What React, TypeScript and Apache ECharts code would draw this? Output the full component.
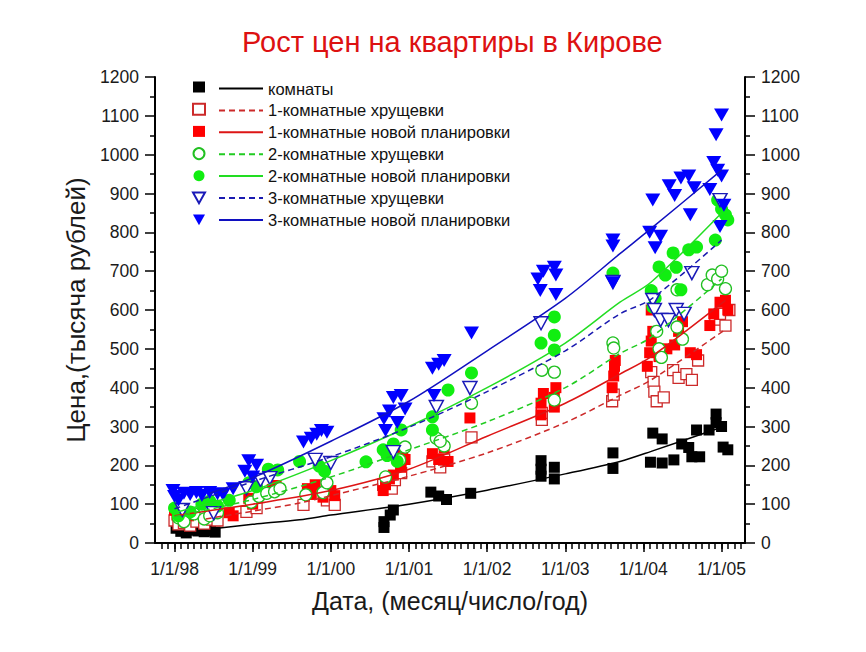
import React, { useEffect, useRef } from "react";
import * as echarts from "echarts";

const FONT = "'Liberation Sans', Arial, sans-serif";

const yearTicks = [1998, 1999, 2000, 2001, 2002, 2003, 2004, 2005];
const yearLabels = ["1/1/98", "1/1/99", "1/1/00", "1/1/01", "1/1/02", "1/1/03", "1/1/04", "1/1/05"];

const seriesNames = [
  "комнаты",
  "1-комнатные хрущевки",
  "1-комнатные новой планировки",
  "2-комнатные хрущевки",
  "2-комнатные новой планировки",
  "3-комнатные хрущевки",
  "3-комнатные новой планировки",
];

// [decimal year, price in thousand rubles]
const komnaty: [number, number][] = [
  [1998.02, 38], [1998.08, 30], [1998.15, 26], [1998.22, 33], [1998.3, 31], [1998.38, 29], [1998.46, 32], [1998.52, 28],
  [2000.68, 40], [2000.68, 55], [2000.76, 72], [2000.8, 85],
  [2001.28, 131], [2001.38, 121], [2001.48, 112], [2001.79, 128],
  [2002.69, 212], [2002.69, 190], [2002.69, 172], [2002.86, 195], [2002.86, 165],
  [2003.61, 232], [2003.61, 192],
  [2004.12, 283], [2004.24, 268], [2004.09, 208], [2004.24, 206], [2004.39, 214], [2004.49, 255], [2004.58, 246],
  [2004.62, 222], [2004.72, 222], [2004.68, 291], [2004.84, 291], [2004.93, 332], [2004.93, 310], [2005.0, 300],
  [2005.02, 247], [2005.08, 240],
];

const khrush1: [number, number][] = [
  [1998.0, 58], [1998.05, 48], [1998.12, 52], [1998.2, 45], [1998.28, 55], [1998.38, 50], [1998.48, 60], [1998.55, 58],
  [1998.92, 80], [1999.05, 90],
  [1999.65, 98], [1999.95, 110], [2000.05, 98],
  [2000.67, 150], [2000.78, 140], [2000.82, 162], [2000.9, 180], [2001.3, 210], [2001.4, 195], [2001.45, 215], [2001.8, 272],
  [2002.7, 317], [2002.7, 335], [2003.6, 365], [2003.62, 382],
  [2004.1, 440], [2004.13, 415], [2004.14, 390], [2004.17, 365], [2004.26, 375], [2004.38, 445], [2004.45, 425],
  [2004.55, 435], [2004.62, 420], [2004.7, 470], [2004.92, 575], [2004.98, 590], [2005.05, 560], [2005.1, 600],
];

const new1: [number, number][] = [
  [1998.0, 85], [1998.03, 72], [1998.1, 78], [1998.18, 70], [1998.55, 82], [1998.7, 78], [1998.75, 70],
  [1998.95, 115], [1999.0, 100], [1999.25, 138], [1999.3, 148],
  [1999.7, 140], [1999.75, 125], [1999.8, 150], [1999.9, 118], [2000.0, 135], [2000.05, 122],
  [2000.67, 135], [2000.7, 150], [2000.75, 165], [2000.8, 175], [2000.9, 195], [2000.95, 215], [2000.92, 238],
  [2001.3, 230], [2001.38, 215], [2001.45, 245], [2001.5, 210], [2001.78, 322],
  [2002.69, 330], [2002.69, 360], [2002.72, 385], [2002.86, 350], [2002.86, 375], [2002.88, 400],
  [2003.6, 400], [2003.62, 430], [2003.63, 455], [2003.64, 470],
  [2004.05, 455], [2004.08, 490], [2004.1, 520], [2004.12, 545], [2004.1, 600], [2004.2, 480], [2004.3, 500],
  [2004.4, 510], [2004.45, 545], [2004.5, 570], [2004.6, 490], [2004.68, 485], [2004.85, 560], [2004.9, 590],
  [2004.98, 620], [2005.05, 625], [2005.08, 600],
];

const khrush2: [number, number][] = [
  [1998.05, 65], [1998.12, 55], [1998.25, 75], [1998.38, 62], [1998.45, 70], [1998.55, 78],
  [1998.98, 105], [1999.08, 120], [1999.18, 128], [1999.28, 132], [1999.35, 140],
  [1999.68, 124], [1999.9, 130], [1999.95, 155],
  [2000.7, 170], [2000.88, 214], [2000.95, 247], [2001.35, 270], [2001.45, 250], [2001.4, 262], [2001.8, 360],
  [2002.7, 445], [2002.86, 440], [2002.86, 368], [2003.61, 515], [2003.62, 502],
  [2004.17, 545], [2004.2, 500], [2004.23, 478], [2004.43, 556], [2004.5, 525], [2004.43, 652], [2004.82, 665],
  [2004.88, 690], [2004.95, 680], [2005.0, 700], [2005.05, 655],
];

const new2: [number, number][] = [
  [1998.0, 90], [1998.05, 70], [1998.2, 80], [1998.35, 100], [1998.45, 108], [1998.55, 95], [1998.7, 110],
  [1998.95, 155], [1999.05, 145], [1999.2, 190], [1999.32, 188],
  [1999.6, 210], [1999.85, 198], [1999.92, 185],
  [2000.45, 209], [2000.67, 240], [2000.72, 225], [2000.8, 255], [2000.85, 210], [2000.9, 291],
  [2001.3, 325], [2001.3, 291], [2001.5, 394], [2001.8, 438],
  [2002.69, 515], [2002.86, 582], [2002.86, 535], [2002.86, 497], [2003.61, 695],
  [2004.1, 650], [2004.12, 608], [2004.15, 630], [2004.2, 711], [2004.28, 690], [2004.38, 747], [2004.42, 710],
  [2004.48, 652], [2004.58, 755], [2004.68, 762], [2004.92, 780], [2004.95, 883], [2005.0, 860], [2005.05, 845],
  [2005.08, 832],
];

const khrush3: [number, number][] = [
  [1998.1, 85], [1998.5, 77],
  [1998.92, 141], [1999.1, 162], [1999.22, 167],
  [1999.8, 214], [2000.0, 206],
  [2000.8, 234], [2001.35, 350], [2001.78, 399],
  [2002.69, 566], [2003.61, 672],
  [2004.12, 626], [2004.14, 600], [2004.22, 574], [2004.32, 574], [2004.42, 600], [2004.52, 590], [2004.62, 695],
  [2004.98, 883],
];

const new3: [number, number][] = [
  [1997.98, 135], [1998.0, 120], [1998.05, 110], [1998.12, 128], [1998.2, 125], [1998.28, 130], [1998.35, 122],
  [1998.45, 130], [1998.55, 127], [1998.62, 125], [1998.75, 140],
  [1998.9, 185], [1998.95, 212], [1999.0, 170], [1999.05, 200],
  [1999.65, 260], [1999.75, 270], [1999.82, 280], [1999.88, 290], [1999.95, 285],
  [2000.68, 320], [2000.7, 290], [2000.75, 340], [2000.8, 375], [2000.85, 310], [2000.9, 380], [2000.95, 345],
  [2001.3, 450], [2001.38, 460], [2001.45, 470], [2001.32, 380], [2001.8, 541],
  [2002.65, 680], [2002.68, 650], [2002.72, 700], [2002.86, 710], [2002.88, 690], [2002.88, 640],
  [2003.61, 780], [2003.61, 765], [2003.61, 670],
  [2004.12, 883], [2004.08, 800], [2004.15, 760], [2004.22, 790], [2004.33, 920], [2004.4, 895], [2004.48, 940],
  [2004.58, 945], [2004.65, 915], [2004.6, 845], [2004.9, 980], [2004.95, 960], [2005.0, 945], [2004.93, 1051],
  [2005.0, 1102], [2004.85, 910], [2005.03, 870], [2004.98, 815],
];

// trend curves
const komnatyTrend: [number, number][] = [
  [1998.55, 38], [1999, 48], [1999.6, 60], [2000, 72], [2001, 100], [2002, 136], [2003, 178], [2003.7, 210], [2004.1, 236], [2005, 298],
];
const khrush1Trend: [number, number][] = [
  [1998.4, 62], [1999, 82], [1999.6, 103], [2000, 122], [2001, 172], [2002, 232], [2003, 310], [2003.7, 380], [2004.1, 420], [2005.05, 550],
];
const new1Trend: [number, number][] = [
  [1998.0, 70], [1999, 100], [2000, 135], [2001, 190], [2002, 275], [2003, 360], [2003.7, 435], [2004.1, 480], [2005.05, 625],
];
const khrush2Trend: [number, number][] = [
  [1998.0, 68], [1999, 112], [2000, 170], [2001, 240], [2002, 312], [2003, 400], [2003.7, 488], [2004.1, 530], [2005.0, 680],
];
const new2Trend: [number, number][] = [
  [1998.0, 78], [1999, 135], [2000, 212], [2001, 300], [2002, 400], [2003, 515], [2003.7, 620], [2004.1, 672], [2005, 850],
];
const khrush3Trend: [number, number][] = [
  [1998.0, 88], [1999, 158], [2000, 222], [2001, 298], [2002, 390], [2003, 495], [2003.7, 590], [2004.1, 628], [2005, 780],
];
const new3Trend: [number, number][] = [
  [1998.45, 128], [1999, 168], [2000, 262], [2001, 365], [2002, 495], [2003, 630], [2003.7, 745], [2004.1, 810], [2005, 960],
];

const pointSets = [komnaty, khrush1, new1, khrush2, new2, khrush3, new3];
const trendSets = [komnatyTrend, khrush1Trend, new1Trend, khrush2Trend, new2Trend, khrush3Trend, new3Trend];

const DOWN_TRIANGLE = "path://M0,0 L20,0 L10,18 Z";

export default function App() {
  const ref = useRef<HTMLDivElement>(null);
  useEffect(() => {
    document.body.style.margin = "0";
    if (!ref.current) return;
    const chart = echarts.init(ref.current, null, { renderer: "svg" });

    const monthTicks: number[] = [];
    for (let m = -2; m <= 87; m++) monthTicks.push(1998 + m / 12);

    const markerStyles = [
      { symbol: "rect", size: 11, rotate: 0, item: { color: "#000000" } },
      { symbol: "rect", size: 11, rotate: 0, item: { color: "#ffffff", borderColor: "#cc2a2a", borderWidth: 1.3 } },
      { symbol: "rect", size: 11, rotate: 0, item: { color: "#ff0000" } },
      { symbol: "circle", size: 12, rotate: 0, item: { color: "#ffffff", borderColor: "#22c022", borderWidth: 1.3 } },
      { symbol: "circle", size: 13, rotate: 0, item: { color: "#11ee11" } },
      { symbol: DOWN_TRIANGLE, size: [14, 13], rotate: 0, item: { color: "#ffffff", borderColor: "#1a1ab8", borderWidth: 1.5 } },
      { symbol: DOWN_TRIANGLE, size: [15, 13], rotate: 0, item: { color: "#0000ff" } },
    ];
    const lineStyles = [
      { color: "#000000", type: "solid" },
      { color: "#cc2a2a", type: [6, 4] },
      { color: "#dd1515", type: "solid" },
      { color: "#22cc22", type: [6, 4] },
      { color: "#22dd22", type: "solid" },
      { color: "#1a1ab0", type: [6, 4] },
      { color: "#1010c0", type: "solid" },
    ];

    const scatterSeries = pointSets.map((d, i) => ({
      type: "scatter",
      name: "p" + i,
      data: d,
      symbol: markerStyles[i].symbol,
      symbolSize: markerStyles[i].size,
      symbolKeepAspect: false,
      itemStyle: { ...markerStyles[i].item, opacity: 1 },
      z: 2,
    }));
    const lineSeries = trendSets.map((d, i) => ({
      type: "line",
      name: "L" + seriesNames[i],
      data: d,
      symbol: "none",
      showSymbol: false,
      smooth: 0.3,
      lineStyle: { color: lineStyles[i].color, type: lineStyles[i].type, width: 1.5 },
      itemStyle: { color: lineStyles[i].color },
      z: 3,
    }));

    const baseY = {
      type: "value",
      min: 0,
      max: 1200,
      interval: 100,
      axisLine: { show: true, lineStyle: { color: "#000", width: 2 } },
      axisTick: { show: true, length: 10, lineStyle: { color: "#000", width: 1.5 } },
      minorTick: { show: true, splitNumber: 2, length: 5, lineStyle: { color: "#000", width: 1.5 } },
      axisLabel: { fontSize: 17.5, color: "#1a1a1a", margin: 16, fontFamily: FONT, formatter: (v: number) => String(v) },
      splitLine: { show: false },
      minorSplitLine: { show: false },
    };

    chart.setOption({
      animation: false,
      textStyle: { fontFamily: FONT },
      title: {
        text: "Рост цен на квартиры в Кирове",
        left: 237,
        top: 22,
        textStyle: { color: "#dd1111", fontSize: 29, fontWeight: "normal", fontFamily: FONT },
      },
      grid: { left: 155, right: 121, top: 77, bottom: 109, containLabel: false },
      legend: [
        {
          data: pointSets.map((_, i) => ({ name: "p" + i, icon: markerStyles[i].symbol })),
          orient: "vertical",
          left: 187,
          top: 76.5,
          itemWidth: 12,
          itemHeight: 11,
          itemGap: 10.2,
          selectedMode: false,
          formatter: () => "",
          textStyle: { fontSize: 10, lineHeight: 11 },
        },
        {
          data: seriesNames.map((n) => "L" + n),
          orient: "vertical",
          left: 213,
          top: 75,
          itemWidth: 44,
          itemHeight: 14,
          itemGap: 4.9,
          selectedMode: false,
          itemStyle: { opacity: 0 },
          formatter: (n: string) => n.slice(1),
          textStyle: { fontSize: 16.5, lineHeight: 14, color: "#111", fontFamily: FONT },
        },
      ],
      xAxis: [
        {
          type: "value",
          min: 1997.75,
          max: 2005.3,
          position: "bottom",
          axisLine: { show: true, lineStyle: { color: "#000", width: 2 } },
          axisTick: { show: true, customValues: yearTicks, length: 9, lineStyle: { color: "#000", width: 1.5 } },
          axisLabel: {
            customValues: yearTicks,
            formatter: (v: number) => yearLabels[yearTicks.indexOf(Math.round(v))] ?? "",
            fontSize: 17.5,
            color: "#1a1a1a",
            margin: 17,
            fontFamily: FONT,
          },
          splitLine: { show: false },
          name: "Дата, (месяц/число/год)",
          nameLocation: "middle",
          nameGap: 45,
          nameTextStyle: { fontSize: 25, color: "#1a1a1a", fontFamily: FONT },
        },
        {
          type: "value",
          min: 1997.75,
          max: 2005.3,
          position: "bottom",
          axisLine: { show: false },
          axisTick: { show: true, customValues: monthTicks, length: 6, lineStyle: { color: "#000", width: 1.5 } },
          axisLabel: { show: false },
          splitLine: { show: false },
        },
      ],
      yAxis: [
        {
          ...baseY,
          position: "left",
          name: "Цена,(тысяча рублей)",
          nameLocation: "middle",
          nameGap: 64,
          nameTextStyle: { fontSize: 26, color: "#1a1a1a", fontFamily: FONT },
        },
        { ...baseY, position: "right" },
      ],
      series: [...scatterSeries, ...lineSeries],
    });
    return () => chart.dispose();
  }, []);
  return <div ref={ref} style={{ width: 866, height: 652 }} />;
}
